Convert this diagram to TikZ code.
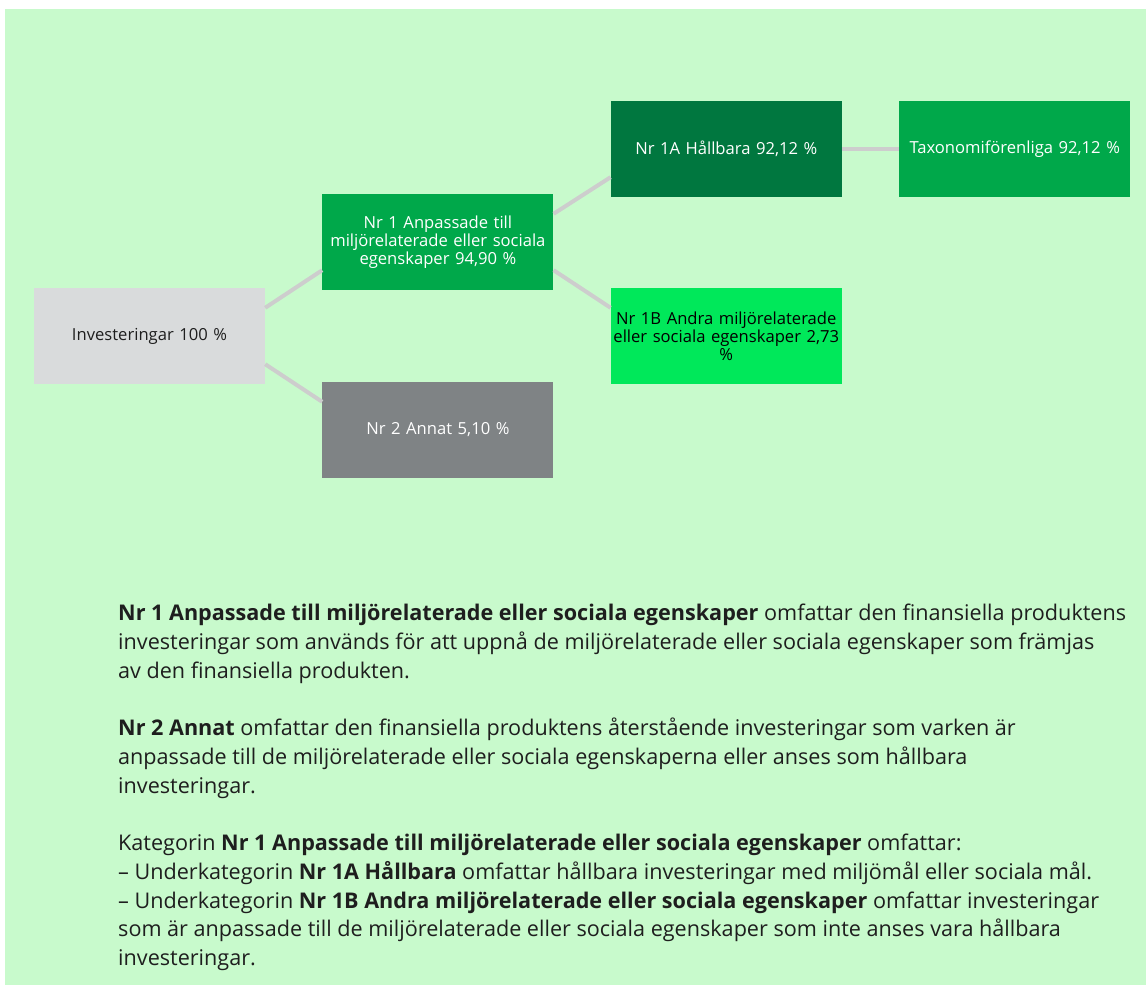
\documentclass[tikz,border=0pt]{standalone}
\usepackage{fontspec}
\setmainfont{Open Sans}
\usetikzlibrary{positioning,calc}
\definecolor{mintbg}{HTML}{C8FACC}
\definecolor{boxgray}{HTML}{D9DBDC}
\definecolor{othergray}{HTML}{7F8385}
\definecolor{midgreen}{HTML}{00A84A}
\definecolor{darkgreen}{HTML}{00773F}
\definecolor{brightgreen}{HTML}{00E85A}
\definecolor{linkgray}{HTML}{CDCDCD}
\definecolor{ink}{HTML}{1E1E1E}

\begin{document}
\begin{tikzpicture}[
  x=1pt,y=1pt,
  font=\fontsize{16.6}{18}\selectfont,
  node distance=57pt,
  box/.style={minimum width=231pt,minimum height=96pt,inner sep=0pt,
              text width=231pt,align=center},
  link/.style={draw=linkgray,line width=4pt}
]
\useasboundingbox (0,0) rectangle (1146,-985);
\fill[mintbg] (5,-9) rectangle (1146,-985);

\node[box,fill=boxgray,text=ink] (inv) at (149.5,-336)
  {Investeringar 100 \%};
\node[box,fill=midgreen,text=white,right=of inv,yshift=94pt] (nr1)
  {Nr 1 Anpassade till\\miljörelaterade eller sociala\\egenskaper 94,90 \%};
\node[box,fill=othergray,text=white,right=of inv,yshift=-94pt] (nr2)
  {Nr 2 Annat 5,10 \%};
\node[box,fill=darkgreen,text=white,right=of nr1,yshift=93pt] (nr1a)
  {Nr 1A Hållbara 92,12 \%};
\node[box,fill=brightgreen,text=black,right=of nr1,yshift=-94pt] (nr1b)
  {Nr 1B Andra miljörelaterade\\eller sociala egenskaper 2,73\\\%};
\node[box,fill=midgreen,text=white,right=of nr1a] (taxo)
  {Taxonomiförenliga 92,12 \%};

\draw[link] ([yshift=-20pt]inv.north east) -- ([yshift=20pt]nr1.south west);
\draw[link] ([yshift=20pt]inv.south east) -- ([yshift=-20pt]nr2.north west);
\draw[link] ([yshift=-20pt]nr1.north east) -- ([yshift=20pt]nr1a.south west);
\draw[link] ([yshift=20pt]nr1.south east) -- ([yshift=-20pt]nr1b.north west);
\draw[link] (nr1a.east) -- (taxo.west);

\node[anchor=north west,align=left,inner sep=0pt,text=ink,
      font=\fontsize{21.6}{28.75}\selectfont] (notes) at (118,-604)
  {\textbf{Nr 1 Anpassade till miljörelaterade eller sociala egenskaper} omfattar den finansiella produktens\\
   investeringar som används för att uppnå de miljörelaterade eller sociala egenskaper som främjas\\
   av den finansiella produkten.\\[28.75pt]
   \textbf{Nr 2 Annat} omfattar den finansiella produktens återstående investeringar som varken är\\
   anpassade till de miljörelaterade eller sociala egenskaperna eller anses som hållbara\\
   investeringar.\\[28.75pt]
   Kategorin \textbf{Nr 1 Anpassade till miljörelaterade eller sociala egenskaper} omfattar:\\
   – Underkategorin \textbf{Nr 1A Hållbara} omfattar hållbara investeringar med miljömål eller sociala mål.\\
   – Underkategorin \textbf{Nr 1B Andra miljörelaterade eller sociala egenskaper} omfattar investeringar\\
   som är anpassade till de miljörelaterade eller sociala egenskaper som inte anses vara hållbara\\
   investeringar.};
\end{tikzpicture}
\end{document}
